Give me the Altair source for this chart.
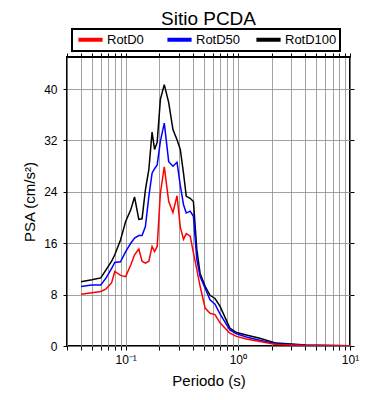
import altair as alt
import pandas as pd

FONT = "Liberation Sans"

periods = [0.04, 0.05, 0.06, 0.067, 0.075, 0.08, 0.09, 0.1, 0.111, 0.12, 0.131, 0.14,
           0.15, 0.161, 0.172, 0.181, 0.191, 0.204, 0.221, 0.242, 0.264, 0.287, 0.307,
           0.328, 0.347, 0.376, 0.402, 0.431, 0.461, 0.511, 0.565, 0.626, 0.693, 0.849,
           0.974, 1.19, 1.57, 2.2, 4.05, 6.5, 10]

rotd100 = [10.0, 10.3, 10.6, 11.9, 13.2, 14.2, 16.5, 19.4, 21.2, 23.2, 19.7, 19.8,
           24.3, 27.5, 33.3, 30.6, 31.7, 38.4, 40.7, 37.9, 33.7, 32.1, 30.6,
           26.9, 23.3, 23.0, 22.5, 15.0, 11.3, 9.3, 7.9, 7.4, 6.2, 2.8,
           2.1, 1.7, 1.2, 0.45, 0.15, 0.08, 0.05]

rotd50 = [9.25, 9.5, 9.5, 10.6, 12.1, 13.0, 13.1, 14.7, 16.0, 16.8, 17.2, 17.2,
          18.6, 23.3, 26.9, 27.6, 28.2, 31.9, 34.7, 28.7, 28.0, 28.6, 25.0,
          22.0, 20.7, 21.0, 20.2, 13.5, 10.8, 9.0, 7.2, 6.5, 5.0, 2.5,
          1.9, 1.4, 0.9, 0.35, 0.12, 0.06, 0.04]

rotd0 = [8.06, 8.3, 8.5, 8.9, 9.85, 11.6, 11.0, 10.8, 12.6, 14.2, 15.1, 13.2,
         12.9, 13.2, 15.5, 14.7, 15.5, 23.8, 27.9, 22.5, 20.8, 23.4, 18.5,
         16.6, 17.5, 17.1, 14.5, 11.9, 9.3, 5.9, 5.1, 4.9, 3.6, 2.0,
         1.5, 1.1, 0.7, 0.25, 0.08, 0.04, 0.03]

series_names = ["RotD0", "RotD50", "RotD100"]
series_colors = ["#ff0000", "#0000ff", "#000000"]

x_tick_values = [0.03, 0.04, 0.05, 0.06, 0.07, 0.08, 0.09,
                 0.1, 0.2, 0.3, 0.4, 0.5, 0.6, 0.7, 0.8, 0.9,
                 1, 2, 3, 4, 5, 6, 7, 8, 9, 10]
y_tick_values = [0, 8, 16, 24, 32, 40]

rows = []
for name, vals in [("RotD100", rotd100), ("RotD50", rotd50), ("RotD0", rotd0)]:
    for p, v in zip(periods, vals):
        rows.append({"Periodo": p, "PSA": v, "Serie": name})
df = pd.DataFrame(rows)

xs = alt.Scale(type="log", domain=[0.03, 10], nice=False)
ys = alt.Scale(domain=[0, 45], nice=False)

label_expr = ("datum.value == 0.1 ? '10\u207b\u00b9' : datum.value == 1 ? '10\u2070' : "
              "datum.value == 10 ? '10\u00b9' : ''")

lines = alt.Chart(df).mark_line(strokeWidth=1.5, clip=True).encode(
    x=alt.X("Periodo:Q", scale=xs,
            axis=alt.Axis(values=x_tick_values, labelExpr=label_expr, title="Periodo (s)",
                          grid=True, labelOverlap=False, labelFlush=False,
                          labelPadding=4, titlePadding=8)),
    y=alt.Y("PSA:Q", scale=ys,
            axis=alt.Axis(values=y_tick_values, title="PSA (cm/s\u00b2)", grid=True,
                          labelPadding=6, titlePadding=6)),
    color=alt.Color("Serie:N",
                    scale=alt.Scale(domain=series_names, range=series_colors),
                    legend=alt.Legend(title=None, orient="none", legendX=5, legendY=-28,
                                      direction="horizontal", symbolType="M-2.2,0H2.2",
                                      symbolStrokeWidth=4, symbolSize=121,
                                      symbolOffset=8, gridAlign="all",
                                      labelExpr="datum.label == 'RotD100' ? datum.label + '  ' : datum.label",
                                      labelFontSize=13, labelFont=FONT, labelOffset=9,
                                      columnPadding=0, padding=3,
                                      strokeColor="black")),
)

frame_ticks = alt.Chart(df).mark_point(opacity=0).encode(
    x=alt.X("Periodo:Q", scale=xs,
            axis=alt.Axis(values=x_tick_values, orient="top", labels=False, title=None,
                          grid=False)),
    y=alt.Y("PSA:Q", scale=ys,
            axis=alt.Axis(values=y_tick_values, orient="right", labels=False, title=None,
                          grid=False)),
)

chart = alt.layer(lines, frame_ticks).resolve_axis(
    x="independent", y="independent"
).properties(
    width=283, height=289,
    autosize=alt.AutoSizeParams(type="none"),
    padding={"left": 59, "top": 49, "right": 20, "bottom": 45},
    title=alt.TitleParams("Sitio PCDA", fontSize=19, fontWeight="normal", font=FONT,
                          anchor="middle", offset=-1, color="black"),
).configure_view(
    stroke="black", strokeWidth=2
).configure_legend(
    strokeWidth=2
).configure_axis(
    domain=False, tickColor="black", tickSize=4, tickWidth=1,
    gridColor="#8c8c8c", gridWidth=0.8, gridOpacity=1,
    labelFont=FONT, labelFontSize=12, labelColor="black",
    titleFont=FONT, titleFontSize=15, titleFontWeight="normal", titleColor="black",
)

chart.save("out.html", embed_options={"renderer": "svg", "actions": False})
